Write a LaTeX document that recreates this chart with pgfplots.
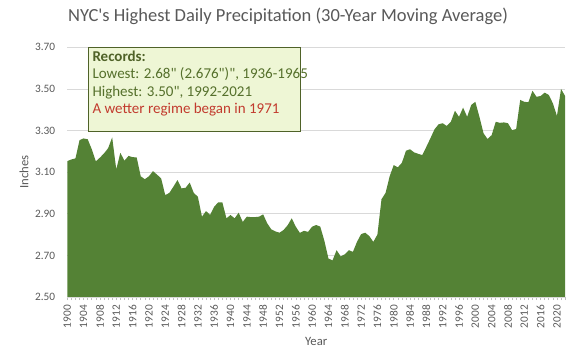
\documentclass[border=0pt]{standalone}
\usepackage{pgfplots}
\pgfplotsset{compat=1.18}
\usepackage{pgfplotstable}
\usepackage{fontspec}
\setmainfont{Carlito}[Ligatures=TeXOff]
\definecolor{areagreen}{HTML}{548235}
\definecolor{txtgrey}{HTML}{595959}
\definecolor{gridgrey}{HTML}{D9D9D9}
\definecolor{tickgrey}{HTML}{BFBFBF}
\definecolor{boxfill}{HTML}{EEF6D5}
\definecolor{boxline}{HTML}{4F6228}
\definecolor{olivetxt}{HTML}{55702B}
\definecolor{redtxt}{HTML}{C23B2E}

\pgfplotstableread{
year value
1900 3.153
1901 3.161
1902 3.166
1903 3.254
1904 3.262
1905 3.258
1906 3.210
1907 3.152
1908 3.170
1909 3.190
1910 3.215
1911 3.267
1912 3.113
1913 3.193
1914 3.155
1915 3.178
1916 3.172
1917 3.171
1918 3.080
1919 3.066
1920 3.080
1921 3.105
1922 3.088
1923 3.070
1924 2.990
1925 3.000
1926 3.030
1927 3.062
1928 3.022
1929 3.025
1930 3.050
1931 3.000
1932 2.982
1933 2.886
1934 2.913
1935 2.894
1936 2.934
1937 2.955
1938 2.955
1939 2.878
1940 2.894
1941 2.878
1942 2.905
1943 2.861
1944 2.886
1945 2.884
1946 2.884
1947 2.886
1948 2.897
1949 2.854
1950 2.825
1951 2.815
1952 2.809
1953 2.822
1954 2.845
1955 2.878
1956 2.838
1957 2.808
1958 2.818
1959 2.813
1960 2.838
1961 2.846
1962 2.838
1963 2.770
1964 2.685
1965 2.676
1966 2.725
1967 2.695
1968 2.705
1969 2.725
1970 2.717
1971 2.765
1972 2.802
1973 2.809
1974 2.793
1975 2.765
1976 2.800
1977 2.970
1978 3.000
1979 3.080
1980 3.134
1981 3.123
1982 3.145
1983 3.203
1984 3.210
1985 3.195
1986 3.188
1987 3.182
1988 3.222
1989 3.263
1990 3.306
1991 3.330
1992 3.335
1993 3.322
1994 3.342
1995 3.395
1996 3.366
1997 3.410
1998 3.366
1999 3.423
2000 3.438
2001 3.366
2002 3.287
2003 3.259
2004 3.278
2005 3.342
2006 3.337
2007 3.339
2008 3.335
2009 3.302
2010 3.307
2011 3.447
2012 3.438
2013 3.436
2014 3.491
2015 3.462
2016 3.466
2017 3.482
2018 3.471
2019 3.431
2020 3.370
2021 3.500
2022 3.466
}\precip

\begin{document}
\begin{tikzpicture}
\path[use as bounding box] (0,0) rectangle (577bp,362bp);
\begin{axis}[
  at={(67.3bp,65bp)}, anchor=south west,
  width=497.8bp, height=249.7bp, scale only axis,
  xmin=1900, xmax=2022, ymin=2.5, ymax=3.7,
  axis x line*=bottom, axis y line*=left,
  x axis line style={draw=gridgrey, line width=0.75bp, -},
  y axis line style={draw=none},
  ytick={2.5,2.7,2.9,3.1,3.3,3.5,3.7},
  ymajorgrids, grid style={draw=gridgrey, line width=0.75bp},
  xtick={1900,1904,...,2020},
  minor xtick={1900,1901,...,2022},
  tick align=outside,
  major tick length=3bp, minor tick length=3bp,
  xtick style={draw=tickgrey, line width=0.6bp},
  ytick style={draw=none},
  /pgf/number format/assume math mode=true,
  xticklabel style={rotate=90, anchor=east, inner sep=0pt,
    font=\fontsize{11.3bp}{13bp}\selectfont, text=txtgrey,
    /pgf/number format/1000 sep={}},
  xticklabel shift=5bp,
  yticklabel style={anchor=east, inner sep=0pt,
    font=\fontsize{11.3bp}{13bp}\selectfont, text=txtgrey,
    /pgf/number format/fixed, /pgf/number format/fixed zerofill,
    /pgf/number format/precision=2},
  yticklabel shift=9bp,
  title={NYC's Highest Daily Precipitation (30-Year Moving Average)},
  title style={at={(axis description cs:0.4434,1.080)}, anchor=base,
    inner sep=0pt, font=\fontsize{18.5bp}{22bp}\selectfont, text=txtgrey},
  xlabel={Year},
  xlabel style={at={(axis description cs:0.5,-0.179)}, anchor=center,
    inner sep=0pt, font=\fontsize{12.7bp}{15bp}\selectfont, text=txtgrey},
  ylabel={Inches},
  ylabel style={at={(axis description cs:-0.087,0.5)}, anchor=center,
    inner sep=0pt, font=\fontsize{12.7bp}{15bp}\selectfont, text=txtgrey},
]
\addplot[fill=areagreen, draw=none, mark=none] table[x=year, y=value] {\precip} \closedcycle;
\end{axis}
\draw[boxline, fill=boxfill, line width=0.9bp] (88.3bp,231bp) rectangle (300bp,314.7bp);
\begin{scope}[every node/.style={anchor=base west, inner sep=0pt,
    font=\fontsize{15bp}{17.5bp}\selectfont}]
\node[text=boxline, font=\fontsize{15bp}{17.5bp}\selectfont\bfseries] at (92.3bp,300.5bp) {Records:};
\node[text=olivetxt] at (92.3bp,283bp) {Lowest: 2.68" (2.676")", 1936-1965};
\node[text=olivetxt] at (92.3bp,265.5bp) {Highest: 3.50", 1992-2021};
\node[text=redtxt] at (92.3bp,248bp) {A wetter regime began in 1971};
\end{scope}
\end{tikzpicture}
\end{document}
